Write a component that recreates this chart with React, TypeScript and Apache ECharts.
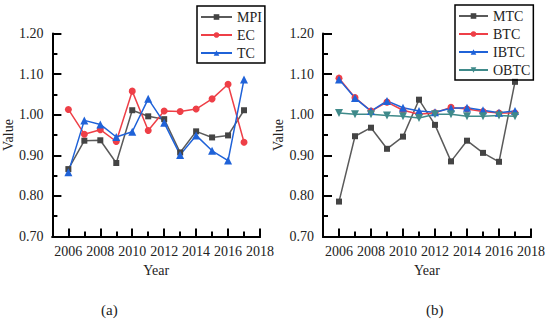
import React, { useEffect, useRef } from "react";
import * as echarts from "echarts";

const years = [2006, 2007, 2008, 2009, 2010, 2011, 2012, 2013, 2014, 2015, 2016, 2017];
const evenYears = [2006, 2008, 2010, 2012, 2014, 2016, 2018];
const oddYears = [2007, 2009, 2011, 2013, 2015, 2017];

const mpi = [0.866, 0.936, 0.937, 0.881, 1.011, 0.996, 0.989, 0.907, 0.959, 0.944, 0.949, 1.011];
const ec = [1.013, 0.952, 0.963, 0.934, 1.058, 0.961, 1.009, 1.008, 1.014, 1.039, 1.075, 0.932];
const tc = [0.858, 0.986, 0.976, 0.945, 0.958, 1.039, 0.98, 0.901, 0.949, 0.911, 0.887, 1.087];

const mtc = [0.786, 0.947, 0.968, 0.916, 0.946, 1.037, 0.975, 0.885, 0.936, 0.906, 0.884, 1.081];
const btc = [1.09, 1.042, 1.009, 1.031, 1.011, 1.001, 1.005, 1.018, 1.014, 1.008, 1.004, 1.004];
const ibtc = [1.087, 1.041, 1.009, 1.034, 1.017, 1.009, 1.006, 1.016, 1.017, 1.011, 1.005, 1.009];
const obtc = [1.004, 1.001, 1.001, 0.998, 0.996, 0.992, 1.001, 1.001, 0.996, 0.996, 0.998, 0.996];

const FONT = "'Liberation Serif', 'Times New Roman', serif";
const GRAY = "#5a5a5a";
const RED = "#ee3f47";
const BLUE = "#1f62d8";
const TEAL = "#3f8a8a";

const pts = (vals: number[]) => years.map((y, i) => [y, vals[i]]);

function xAxes(gridIndex: number) {
  const base = {
    type: "value",
    gridIndex,
    position: "bottom",
    min: 2005,
    max: 2018,
    interval: 1,
    splitLine: { show: false },
    axisLine: { show: true, lineStyle: { color: "#000", width: 2 } },
  };
  return [
    {
      ...base,
      name: "Year",
      nameLocation: "middle",
      nameGap: 23,
      nameTextStyle: { fontFamily: FONT, fontSize: 14, color: "#222" },
      axisTick: { show: true, inside: true, length: 8, customValues: evenYears, lineStyle: { color: "#000", width: 2 } },
      axisLabel: {
        show: true,
        customValues: evenYears,
        margin: 8,
        fontFamily: FONT,
        fontSize: 14,
        color: "#222",
        formatter: (v: number) => String(Math.round(v)),
      },
    },
    {
      ...base,
      axisTick: { show: true, inside: true, length: 5, customValues: oddYears, lineStyle: { color: "#000", width: 2 } },
      axisLabel: { show: false },
    },
  ];
}

function yAxis(gridIndex: number) {
  return {
    type: "value",
    gridIndex,
    position: "left",
    min: 0.7,
    max: 1.2,
    interval: 0.1,
    name: "Value",
    nameLocation: "middle",
    nameGap: 36,
    nameTextStyle: { fontFamily: FONT, fontSize: 14, color: "#222" },
    splitLine: { show: false },
    axisLine: { show: true, lineStyle: { color: "#000", width: 2 } },
    axisTick: { show: true, inside: true, length: 9, lineStyle: { color: "#000", width: 2 } },
    minorTick: { show: true, splitNumber: 2, length: 5, lineStyle: { color: "#000", width: 2 } },
    axisLabel: {
      fontFamily: FONT,
      fontSize: 14,
      color: "#222",
      margin: 9,
      formatter: (v: number) => v.toFixed(2),
    },
  };
}

function line(name: string, vals: number[], color: string, symbol: string, size: number, xi: number, yi: number, lineColor?: string) {
  return {
    type: "line",
    name,
    data: pts(vals),
    xAxisIndex: xi,
    yAxisIndex: yi,
    symbol,
    symbolSize: size,
    showAllSymbol: true,
    lineStyle: { color: lineColor || color, width: 1.5 },
    itemStyle: { color },
  };
}

export default function App() {
  const ref = useRef<HTMLDivElement>(null);
  useEffect(() => {
    if (!ref.current) return;
    const chart = echarts.init(ref.current, null, { renderer: "svg" });
    const legendCommon = {
      orient: "vertical",
      itemHeight: 7,
      itemGap: 4,
      borderColor: "#000",
      borderWidth: 1.5,
      borderRadius: 0,
      padding: [4, 3, 3, 3],
      textStyle: { fontFamily: FONT, fontSize: 14, color: "#222" },
    };
    chart.setOption({
      animation: false,
      backgroundColor: "#fff",
      grid: [
        { left: 52, top: 33.5, width: 208, height: 203 },
        { left: 323, top: 33.5, width: 208, height: 203 },
      ],
      xAxis: [...xAxes(0), ...xAxes(1)],
      yAxis: [yAxis(0), yAxis(1)],
      legend: [
        { ...legendCommon, itemWidth: 31, left: 197, top: 6, data: ["MPI", "EC", "TC"] },
        { ...legendCommon, itemWidth: 29, left: 455, top: 5, data: ["MTC", "BTC", "IBTC", "OBTC"] },
      ],
      title: [
        { text: "(a)", left: 96, top: 297, textStyle: { fontFamily: FONT, fontSize: 15, fontWeight: "normal", color: "#222" } },
        { text: "(b)", left: 421, top: 297, textStyle: { fontFamily: FONT, fontSize: 15, fontWeight: "normal", color: "#222" } },
      ],
      series: [
        line("MPI", mpi, "#444", "rect", 6, 0, 0, GRAY),
        line("EC", ec, RED, "circle", 7, 0, 0),
        line("TC", tc, BLUE, "triangle", 8, 0, 0),
        line("MTC", mtc, "#444", "rect", 6, 2, 1, GRAY),
        line("BTC", btc, RED, "circle", 7, 2, 1),
        line("IBTC", ibtc, BLUE, "triangle", 8, 2, 1),
        line("OBTC", obtc, TEAL, "path://M0,0 L10,0 L5,9 Z", 8, 2, 1),
      ],
    });
    return () => chart.dispose();
  }, []);
  return <div ref={ref} style={{ width: 550, height: 322, position: "absolute", left: 0, top: 0 }} />;
}
